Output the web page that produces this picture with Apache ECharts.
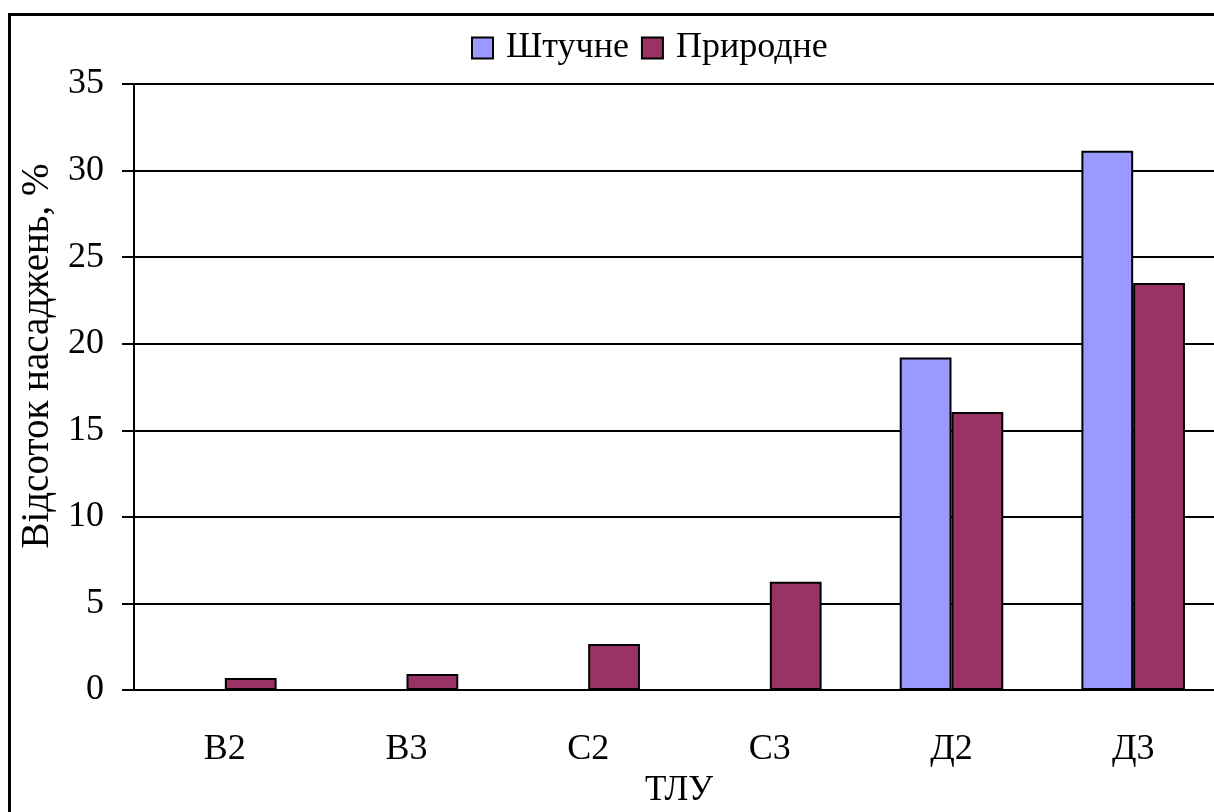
<!DOCTYPE html>
<html>
<head>
<meta charset="utf-8">
<style>
  html, body { margin: 0; padding: 0; background: #fff; }
  #chart { width: 1214px; height: 812px; }
</style>
<script src="https://cdn.jsdelivr.net/npm/echarts@6/dist/echarts.min.js"></script>
</head>
<body>
<div id="chart"></div>
<script>
// categories (ТЛУ) and the two series
var categories = ['B2', 'B3', 'C2', 'C3', 'Д2', 'Д3'];
var shtuchne = [0, 0, 0, 0, 19.2, 31.15];
var pryrodne = [0.69, 0.93, 2.66, 6.25, 16.05, 23.5];
var yTicks = [0, 5, 10, 15, 20, 25, 30, 35];

var font = '"Liberation Serif", "Times New Roman", serif';

var chart = echarts.init(document.getElementById('chart'));

var option = {
    animation: false,
    backgroundColor: '#fff',
    textStyle: { fontFamily: font },
    graphic: [{
        // outer frame, the right and bottom edges run off the picture
        type: 'rect',
        shape: { x: 9.5, y: 14.5, width: 1300, height: 900 },
        style: { fill: 'none', stroke: '#000', lineWidth: 3 },
        z: 100
    }],
    legend: {
        left: 466,
        top: 25,
        itemWidth: 21,
        itemHeight: 21,
        itemGap: 12,
        icon: 'rect',
        itemStyle: { borderColor: '#000', borderWidth: 2 },
        textStyle: { fontFamily: font, fontSize: 36, color: '#000', padding: [0, 0, 0, 8] },
        data: ['Штучне', 'Природне']
    },
    grid: { left: 134, top: 84, bottom: 122, right: -10, outerBoundsMode: 'none' },
    xAxis: {
        type: 'category',
        data: categories,
        name: 'ТЛУ',
        nameLocation: 'middle',
        nameGap: 73,
        nameTextStyle: { fontFamily: font, fontSize: 35, color: '#000' },
        axisLine: { lineStyle: { color: '#000', width: 2 } },
        axisTick: { length: 12, lineStyle: { color: '#000', width: 2 } },
        axisLabel: { fontFamily: font, fontSize: 36, color: '#000', margin: 42 }
    },
    yAxis: {
        type: 'value',
        min: yTicks[0],
        max: yTicks[yTicks.length - 1],
        interval: 5,
        name: 'Відсоток насаджень, %',
        nameLocation: 'middle',
        nameGap: 61,
        nameTextStyle: { fontFamily: font, fontSize: 39, color: '#000', padding: [0, 0, 0, 62] },
        axisLine: { show: true, lineStyle: { color: '#000', width: 2 } },
        axisTick: { show: true, length: 12, lineStyle: { color: '#000', width: 2 } },
        axisLabel: { fontFamily: font, fontSize: 36, color: '#000', margin: 30 },
        splitLine: { lineStyle: { color: '#000', width: 2 } }
    },
    series: [
        {
            name: 'Штучне',
            type: 'bar',
            data: shtuchne,
            barGap: '0%',
            barCategoryGap: '43%',
            itemStyle: { color: '#9999FF', borderColor: '#000', borderWidth: 2 }
        },
        {
            name: 'Природне',
            type: 'bar',
            data: pryrodne,
            barGap: '0%',
            barCategoryGap: '43%',
            itemStyle: { color: '#993366', borderColor: '#000', borderWidth: 2 }
        }
    ]
};

chart.setOption(option);
</script>
</body>
</html>
